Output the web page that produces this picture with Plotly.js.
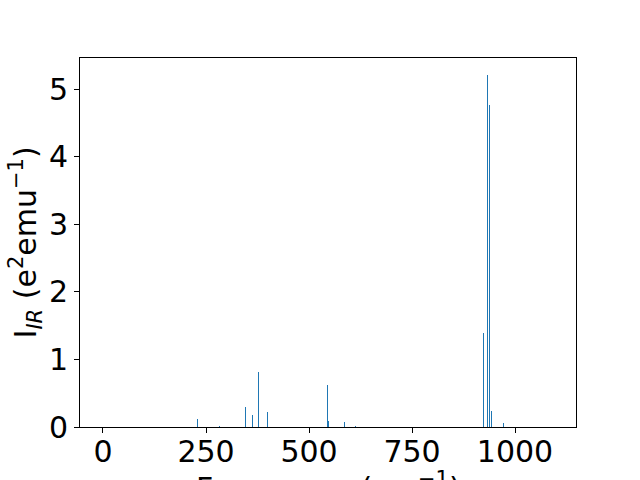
<!DOCTYPE html>
<html><head><meta charset="utf-8">
<script src="https://cdn.plot.ly/plotly-3.0.1.min.js"></script>
<style>html,body{margin:0;padding:0;background:#fff}#chart{width:640px;height:480px}</style>
</head><body><div id="chart"></div>
<script>
const frequencies = [229, 282, 345, 362, 377, 399, 544, 547, 586, 612, 923, 933, 938, 942, 972];
const intensities = [0.12, 0.01, 0.30, 0.18, 0.81, 0.22, 0.62, 0.09, 0.075, 0.01, 1.39, 5.21, 4.76, 0.24, 0.06];
const xTicks = [0, 250, 500, 750, 1000];
const yTicks = [0, 1, 2, 3, 4, 5];

const font = {family: 'DejaVu Sans', size: 30, color: '#000'};
Plotly.newPlot('chart', [{
  type: 'bar', x: frequencies, y: intensities, width: 2.5,
  marker: {color: '#1f77b4', line: {width: 0}}
}], {
  width: 640, height: 480,
  margin: {l: 80, r: 64, t: 58, b: 53},
  paper_bgcolor: '#fff', plot_bgcolor: '#fff',
  font: font, showlegend: false, bargap: 0,
  xaxis: {range: [-55.8, 1148], tickvals: xTicks, ticktext: xTicks.map(String),
    showgrid: false, zeroline: false, showline: true, mirror: true, linecolor: '#000', linewidth: 1,
    ticks: 'outside', ticklen: 5, tickcolor: '#000', tickfont: font, automargin: false,
    ticklabelstandoff: -7},
  yaxis: {range: [0, 5.46], tickvals: yTicks, ticktext: yTicks.map(String),
    showgrid: false, zeroline: false, showline: true, mirror: true, linecolor: '#000', linewidth: 1,
    ticks: 'outside', ticklen: 5, tickcolor: '#000', tickfont: font, automargin: false},
  annotations: [
    {text: 'Frequency (cm<sup>−1</sup>)', xref: 'paper', yref: 'paper', x: 0.5, y: -0.161,
     xanchor: 'center', yanchor: 'middle', showarrow: false, font: font},
    {text: 'I<sub><i>IR</i></sub> (e<sup>2</sup>emu<sup>−1</sup>)', xref: 'paper', yref: 'paper', x: -0.109, y: 0.5,
     xanchor: 'center', yanchor: 'middle', textangle: -90, showarrow: false, font: font}
  ]
}, {displayModeBar: false, staticPlot: true});
</script></body></html>
